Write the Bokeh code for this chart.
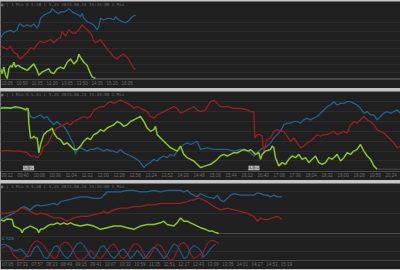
from bokeh.plotting import figure
from bokeh.models import Range1d, FixedTicker, Label, Spacer
from bokeh.layouts import column
from bokeh.embed import file_html
from bokeh.resources import INLINE

# ---------------- data (time index, level; larger level = lower on screen) -------------
# Panel 1
b1_x = [0,10,20,30,40,50,55,60,70,80,90,100,110,115,120,130,140,150,155,165,175,180,190,200,205,215,225,235,240,245,250,260,270,280,290,295,300,310,320,330,340,345,355,365,375,385,395,405]
b1_y = [115,100,95,92,97,90,75,72,80,75,80,72,85,75,55,45,40,35,25,35,40,35,35,30,25,35,40,45,50,40,55,65,70,75,90,80,55,60,55,55,60,50,60,65,68,62,50,45]
r1_x = [0,10,20,30,40,50,55,60,70,80,90,100,110,120,130,140,150,160,170,180,185,195,205,215,225,235,245,255,260,270,275,280,285,295,300,310,320,330,340,350,360,370,380,390,400,405]
r1_y = [140,145,150,140,160,165,175,180,170,160,145,150,135,125,130,125,120,130,120,115,95,110,90,100,100,90,75,85,90,100,110,125,130,125,120,135,150,160,175,180,170,165,175,190,210,210]
g1_x = [0,5,10,15,20,25,30,35,40,45,50,55,60,70,80,90,100,110,115,125,135,145,150,160,170,180,190,200,210,220,230,235,240,250,260,270,275,285]
g1_y = [210,225,205,230,240,210,200,205,190,205,200,200,205,210,215,205,195,215,230,220,215,210,220,225,210,205,210,190,180,195,185,165,175,190,200,225,235,240]

# Panel 2
g2_x = [0,15,30,45,60,70,75,80,83,85,90,95,100,105,110,115,120,130,140,150,155,160,170,180,
        190,200,210,220,230,240,250,260,270,280,290,300,310,320,330,340,350,360,370,380,390,400,410,420,
        430,440,450,460,465,470,480,490,500,510,520,530,540,550,560,570,580,590,600,
        615,630,645,660,670,680,690,700,710,720,730,745,750,755,765,775,780,785,795,810,815,820,825,835,
        845,855,865,875,885,895,905,915,925,935,945,955,965,975,985,995,1010,1020,1030,1040,1050,1060,1070,1080,
        1090,1100,1110,1120,1130]
g2_y = [60,58,60,55,58,62,65,60,62,105,150,150,145,150,150,195,170,140,130,125,120,135,150,155,
        170,165,175,185,185,175,160,150,155,140,135,125,130,120,115,110,100,105,115,110,100,95,90,85,
        100,120,130,125,115,140,150,160,170,180,185,190,175,200,210,215,220,230,240,
        235,230,220,205,200,205,200,195,195,190,185,190,185,190,200,195,215,200,190,185,175,180,210,235,
        225,230,215,205,210,200,215,210,225,215,205,225,230,225,210,215,200,220,210,195,200,190,185,170,
        190,205,215,235,245]
b2_x = [0,30,60,75,85,90,100,110,120,130,140,150,160,170,180,190,200,210,220,225,230,240,250,260,
        270,280,290,300,310,320,330,340,350,360,370,380,390,400,410,420,430,440,450,460,470,480,490,500,
        510,520,530,540,550,560,570,580,590,600,
        620,640,660,680,700,720,740,750,760,770,780,790,800,810,820,830,840,850,860,870,880,890,900,910,
        920,930,940,950,960,970,980,990,1000,1010,1020,1030,1040,1050,1060,1070,1080,1090,
        1100,1110,1120,1130,1140,1150,1160,1170,1180,1190,1200]
b2_y = [57,58,60,62,70,85,90,85,80,90,85,100,110,100,110,115,130,150,170,200,185,180,185,190,
        185,185,180,185,190,185,190,190,195,185,195,200,205,210,215,225,240,230,225,215,220,210,205,210,
        200,205,190,180,170,165,170,165,160,185,
        180,185,185,185,190,185,190,195,205,195,185,180,175,165,150,140,130,110,105,105,100,100,105,95,
        90,95,90,85,75,65,55,50,40,50,45,45,40,40,45,50,60,75,
        70,80,80,95,85,75,70,75,70,65,75]
r2_x = [0,20,40,60,80,90,100,110,120,130,140,150,160,170,180,190,200,210,220,230,240,250,260,270,
        280,290,300,310,320,330,340,350,360,370,380,390,400,410,420,430,440,450,460,470,480,490,500,510,
        520,530,540,550,560,570,580,590,600,
        615,630,640,650,660,680,700,720,740,750,760,763,770,780,785,790,795,800,810,820,830,840,850,860,
        870,880,890,900,910,920,930,940,950,960,970,980,990,1000,1010,1020,1030,1040,
        1050,1060,1070,1080,1090,1100,1110,1120,1130,1140,1150,1160,1170,1180,1190,1200]
r2_y = [190,188,190,190,195,205,205,210,200,175,170,150,130,120,115,110,105,110,100,95,90,85,90,85,
        65,60,55,55,45,40,45,40,35,40,45,50,60,55,60,65,70,85,90,80,75,70,65,60,
        55,60,75,70,65,60,55,65,70,
        65,40,35,45,55,55,60,60,65,70,70,150,140,140,145,195,170,155,150,130,125,130,130,145,
        160,150,165,180,175,165,160,150,140,145,140,140,135,130,140,135,130,135,
        110,100,105,95,85,95,100,110,125,130,135,145,155,165,180,175]

# Panel 3
b3_x = [0,20,40,60,70,80,90,100,110,120,140,160,170,180,200,220,240,260,280,300,310,320,340,360,
        380,400,420,440,460,480,500,520,540,550,560,570,580,590,600,
        620,640,650,660,670,680,690,700,720,740,760,770,780,790,800,810,820,830,845]
b3_y = [120,110,100,85,80,85,90,80,75,78,75,70,75,65,60,55,50,50,55,55,45,35,35,35,
        30,30,35,35,30,35,30,30,30,35,30,40,45,50,40,
        50,55,45,60,65,55,45,40,45,45,45,38,40,45,45,50,45,50,50]
r3_x = [0,20,40,50,60,70,80,90,100,110,120,140,160,180,190,200,210,220,240,260,280,300,310,320,
        340,360,380,400,420,440,460,480,500,520,540,560,570,580,590,600,
        620,640,660,680,700,720,740,760,770,780,790,800,815,830,845]
r3_y = [100,100,95,95,85,85,90,95,100,105,100,105,115,115,120,125,120,115,110,110,105,100,95,100,
        90,85,85,80,80,75,75,70,70,70,70,65,60,60,55,55,
        65,80,90,85,90,95,100,110,125,115,120,120,115,110,120]
g3_x = [0,10,20,35,40,50,60,65,70,80,90,100,110,115,120,130,140,150,160,170,180,190,200,210,
        220,240,260,280,300,320,340,360,380,400,410,420,440,460,480,490,500,520,530,540,550,560,570,580,
        590,600,615,625,635,645,655]
g3_y = [120,125,118,120,140,145,150,160,150,145,140,145,150,160,150,148,140,135,135,130,135,130,135,130,
        135,140,135,140,150,145,140,140,145,150,145,140,135,135,130,125,135,140,130,115,125,125,130,135,
        140,145,150,155,155,160,163]
ro_x = [0,10,20,30,40,50,60,70,80,90,100,110,120,130,140,150,160,170,175,
        180,190,200,210,220,230,240,250,260,270,280,290,300,310,320,330,340,350,360,370,380,
        390,400,410,420,430,440,450,460,470,480,490,500,510,520,530,540,550,560,570,580,590,600,
        605,610,620,630,640,650,655]
ro_y = [210,205,200,210,230,240,245,240,230,205,190,185,190,200,215,230,240,235,220,
        200,190,190,200,220,240,245,240,230,215,225,235,240,230,215,200,195,210,235,240,230,
        210,195,195,205,225,240,230,210,195,200,215,235,245,240,215,195,190,200,225,240,235,225,
        238,215,195,185,185,190,195]
bo_x = [0,10,20,30,40,50,60,70,80,90,100,110,120,130,140,150,160,170,180,190,200,210,220,230,240,
        250,260,270,280,290,300,310,320,330,340,350,360,370,380,390,400,410,420,430,440,450,460,470,
        480,490,500,510,520,530,540,550,560,570,580,590,600,610,620,630,640,645]
bo_y = [200,195,200,205,215,215,210,220,235,230,210,200,215,235,240,225,205,200,215,230,240,230,210,195,190,
        200,215,235,240,225,205,200,215,230,240,230,215,210,225,240,230,215,225,240,230,215,205,210,
        225,240,230,210,195,200,220,240,235,210,200,205,215,235,225,210,200,195]

# tick labels
t1_ticks = [20,65,110,155,200,245,290,335,380]
t1_labels = ["10:05","10:50","11:35","12:20","13:05","13:50","14:35","15:20","16:05"]
t2_ticks = [20,68,116,164,212,260,308,356,404,452,500,548,596,644,692,740,788,836,884,932,980,1028,1076,1124,1172]
t2_labels = ["09:12","09:40","10:08","10:36","11:04","11:32","12:00","12:28","12:56","13:24","13:52","14:20","14:48",
             "15:16","15:44","16:12","16:40","17:08","17:36","18:04","18:32","19:00","19:28","19:56","20:24"]
t3_ticks = [22,66,110,154,198,242,286,330,374,418,462,506,550,594,638,682,726,770,814,858]
t3_labels = ["07:05","07:31","07:57","08:23","08:49","09:15","09:41","10:07","10:33","10:59","11:25","11:51",
             "12:17","12:43","13:09","13:35","14:01","14:27","14:53","15:19"]

headers = ["\u25a0 | 1 Min  H 5.58 L 5.25 2023.06.15 15:35:00 1 Min",
           "\u25a0 | 1 Min  H 5.61 L 5.25 2023.06.15 15:35:00 1 Min",
           "\u25a0 | 1 Min  H 5.58 L 5.25 2023.06.15 15:35:00 1 Min"]

BG = "#202020"
GRID = "#2c2c2c"
BLUE = "#22628f"
RED = "#9c1f1f"
GREEN = "#86c826"
OBLUE = "#1e5a82"
ORED = "#8e1b24"
TXT = "#6c6c6c"
MONO = "DejaVu Sans Mono"
SANS = "Liberation Sans"


def make_panel(h, y_lo, y_hi, ticks, labels, grid, header):
    p = figure(width=400, height=h, x_range=Range1d(0, 1200), y_range=Range1d(y_lo, y_hi),
               output_backend="svg", toolbar_location=None, y_axis_location=None,
               background_fill_color=BG, border_fill_color=BG, outline_line_color=None,
               min_border=0, min_border_left=0, min_border_right=0, min_border_top=0, min_border_bottom=0)
    ax = p.xaxis[0]
    ax.ticker = FixedTicker(ticks=ticks)
    ax.major_label_overrides = {t: l for t, l in zip(ticks, labels)}
    ax.axis_line_color = None
    ax.major_tick_line_color = None
    ax.minor_tick_line_color = None
    ax.major_tick_out = 0
    ax.major_tick_in = 0
    ax.major_label_standoff = 1
    ax.major_label_text_font_size = "4.5px"
    ax.major_label_text_color = TXT
    ax.major_label_text_font = SANS
    p.xgrid.visible = False
    p.ygrid.ticker = FixedTicker(ticks=grid)
    p.ygrid.grid_line_color = GRID
    p.ygrid.grid_line_width = 1
    p.add_layout(Label(x=1, y=y_hi + 1, text=header, text_font_size="4.2px", text_color=TXT,
                       text_font=MONO, text_baseline="top"))
    return p


p1 = make_panel(87, 243, 3, t1_ticks, t1_labels, [69, 94, 122, 147, 172, 198, 222], headers[0])
p1.line(b1_x, b1_y, color=BLUE, line_width=1.3)
p1.line(r1_x, r1_y, color=RED, line_width=1.3)
p1.line(g1_x, g1_y, color=GREEN, line_width=1.5)
p1.segment(x0=[g1_x[-1]], y0=[g1_y[-1]], x1=[1200], y1=[g1_y[-1]], color="#4a4a4a", line_width=1)

p2 = make_panel(89, 252, 9, t2_ticks, t2_labels, [40, 70, 100, 130, 160, 190, 220], headers[1])
p2.line(b2_x, b2_y, color=BLUE, line_width=1.3)
p2.line(r2_x, r2_y, color=RED, line_width=1.3)
p2.line(g2_x, g2_y, color=GREEN, line_width=1.5)
p2.segment(x0=[g2_x[-1]], y0=[g2_y[-1]], x1=[1200], y1=[g2_y[-1]], color="#4a4a4a", line_width=1)
for xx in (84, 760):
    p2.add_layout(Label(x=xx, y=1, y_units="screen", text="15:35", text_font_size="4.5px",
                        text_color="#dddddd", text_font=SANS, text_align="center", text_baseline="bottom",
                        level="overlay", background_fill_color="#7a7a7a"))

p3 = make_panel(86, 246, 9, t3_ticks, t3_labels, [35, 100, 172, 218], headers[2])
p3.line(b3_x, b3_y, color=BLUE, line_width=1.3)
p3.line(r3_x, r3_y, color=RED, line_width=1.3)
p3.line(g3_x, g3_y, color=GREEN, line_width=1.5)
p3.segment(x0=[g3_x[-1]], y0=[g3_y[-1]], x1=[1200], y1=[g3_y[-1]], color="#4a4a4a", line_width=1)
p3.line(ro_x, ro_y, color=ORED, line_width=1.2)
p3.line(bo_x, bo_y, color=OBLUE, line_width=1.2)
p3.add_layout(Label(x=4, y=177, text="0.7028", text_font_size="4px", text_color="#3f86b8",
                    text_font=SANS, text_baseline="middle"))

layout = column(Spacer(width=400, height=1), p1, Spacer(width=400, height=3), p2,
                Spacer(width=400, height=3), p3, Spacer(width=400, height=1),
                spacing=0, styles={"background-color": "#c6c6c6"})

open("out.html", "w").write(file_html(layout, INLINE))
